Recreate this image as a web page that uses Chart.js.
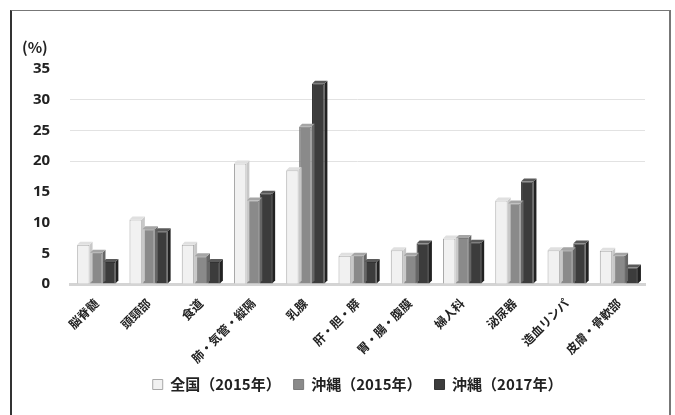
<!DOCTYPE html>
<html>
<head>
<meta charset="utf-8">
<script src="https://cdn.jsdelivr.net/npm/chart.js@4"></script>
<style>
  body { margin: 0; background: #fff; }
  #wrap { position: absolute; left: 0; top: 0; width: 675px; height: 415px; }
  #frame {
    position: absolute; left: 10px; top: 10px; width: 657px; height: 410px;
    border-left: 2px solid #333; border-top: 1.5px solid #777; border-right: 2px solid #777;
    pointer-events: none;
  }
</style>
</head>
<body>
<div id="wrap"><canvas id="myChart" width="675" height="415"></canvas></div>
<div id="frame"></div>
<script>
// 部位別の割合 (%)
const bui = ["脳脊髄", "頭頸部", "食道", "肺・気管・縦隔", "乳腺", "肝・胆・膵", "胃・腸・腹膜", "婦人科", "泌尿器", "造血リンパ", "皮膚・骨軟部"];
const zenkoku2015 = [6.4, 10.5, 6.4, 19.6, 18.5, 4.6, 5.5, 7.4, 13.6, 5.5, 5.4];
const okinawa2015 = [5.1, 8.9, 4.5, 13.6, 25.6, 4.6, 4.6, 7.5, 13.1, 5.5, 4.6];
const okinawa2017 = [3.6, 8.6, 3.6, 14.7, 32.6, 3.6, 6.6, 6.7, 16.7, 6.6, 2.7];
const yTicks = [0, 5, 10, 15, 20, 25, 30, 35];

// 立体っぽく見せる
const depth3d = {
  id: "depth3d",
  afterDatasetsDraw(chart) {
    const ctx = chart.ctx;
    const d = 3;
    chart.data.datasets.forEach((ds, i) => {
      chart.getDatasetMeta(i).data.forEach((bar) => {
        const x0 = bar.x - bar.width / 2;
        const x1 = bar.x + bar.width / 2;
        const top = bar.y;
        const bottom = bar.base;
        ctx.save();
        ctx.fillStyle = ds.sideColor;
        ctx.beginPath();
        ctx.moveTo(x1, top);
        ctx.lineTo(x1 + d, top - d);
        ctx.lineTo(x1 + d, bottom - d);
        ctx.lineTo(x1, bottom);
        ctx.closePath();
        ctx.fill();
        ctx.fillStyle = ds.topColor;
        ctx.beginPath();
        ctx.moveTo(x0, top);
        ctx.lineTo(x0 + d, top - d);
        ctx.lineTo(x1 + d, top - d);
        ctx.lineTo(x1, top);
        ctx.closePath();
        ctx.fill();
        ctx.restore();
      });
    });
  },
  afterDraw(chart) {
    const ctx = chart.ctx;
    const y = chart.scales.y;
    ctx.save();
    ctx.font = "bold 15px 'Noto Sans CJK JP', sans-serif";
    ctx.fillStyle = "#222";
    ctx.textAlign = "left";
    ctx.textBaseline = "middle";
    ctx.fillText("(%)", 22, y.top - 22);
    ctx.restore();
  },
};

const ctx = document.getElementById("myChart");
const myChart = new Chart(ctx, {
  type: "bar",
  data: {
    labels: bui,
    datasets: [
      {
        label: "全国（2015年）",
        data: zenkoku2015,
        backgroundColor: "#f1f1f1",
        borderColor: "#a8a8a8",
        borderWidth: 1,
        sideColor: "#c8c8c8",
        topColor: "#e0e0e0",
      },
      {
        label: "沖縄（2015年）",
        data: okinawa2015,
        backgroundColor: "#8a8a8a",
        borderColor: "#7a7a7a",
        borderWidth: 1,
        sideColor: "#666",
        topColor: "#a5a5a5",
      },
      {
        label: "沖縄（2017年）",
        data: okinawa2017,
        backgroundColor: "#3c3c3c",
        borderColor: "#333",
        borderWidth: 1,
        sideColor: "#222",
        topColor: "#5a5a5a",
      },
    ],
  },
  options: {
    responsive: false,
    animation: false,
    layout: { padding: { left: 13, right: 30, top: 69, bottom: 13 } },
    datasets: { bar: { categoryPercentage: 0.74, barPercentage: 0.96 } },
    scales: {
      x: {
        grid: { display: false },
        border: { color: "#d4d4d4", width: 3 },
        afterFit: (s) => {
          s.height = 80;
        },
        ticks: {
          minRotation: 45,
          maxRotation: 45,
          autoSkip: false,
          color: "#222",
          font: { family: "'Noto Sans CJK JP', sans-serif", size: 12, weight: "bold" },
          padding: 4,
        },
      },
      y: {
        min: 0,
        max: 35,
        afterBuildTicks: (axis) => {
          axis.ticks = yTicks.map((v) => ({ value: v }));
        },
        grid: {
          color: (c) => (c.tick && c.tick.value >= 20 && c.tick.value <= 30 ? "#e2e2e2" : "rgba(0,0,0,0)"),
          drawTicks: false,
        },
        border: { display: false },
        ticks: {
          color: "#222",
          padding: 20,
          font: { family: "'Noto Sans', sans-serif", size: 15, weight: "bold" },
        },
      },
    },
    plugins: {
      legend: {
        position: "bottom",
        fullSize: false,
        labels: {
          color: "#222",
          boxWidth: 10,
          boxHeight: 10,
          padding: 13,
          font: { family: "'Noto Sans CJK JP', sans-serif", size: 15, weight: "bold" },
        },
      },
      tooltip: { enabled: false },
    },
  },
  plugins: [depth3d],
});
</script>
</body>
</html>
